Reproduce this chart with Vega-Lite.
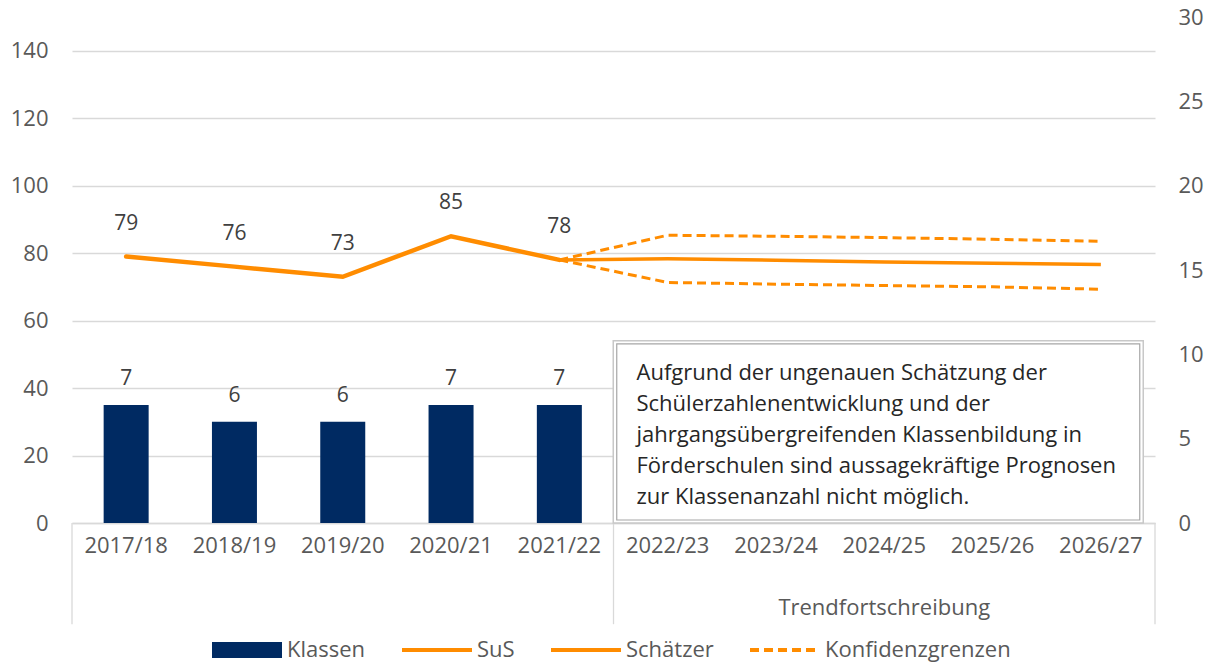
{
  "$schema": "https://vega.github.io/schema/vega-lite/v6.json",
  "width": 1083,
  "height": 506,
  "autosize": {"type": "none"},
  "padding": {"left": 72, "top": 17, "right": 57, "bottom": 141},
  "background": "white",
  "config": {
    "font": "Open Sans",
    "view": {"stroke": null},
    "axis": {"labelFont": "Open Sans", "labelFontSize": 22, "labelColor": "#595959", "ticks": false},
    "legend": {"labelFont": "Open Sans", "labelFontSize": 22, "labelColor": "#595959"}
  },
  "datasets": {
    "klassen": [
      {"year": "2017/18", "klassen": 7, "series": "Klassen"},
      {"year": "2018/19", "klassen": 6, "series": "Klassen"},
      {"year": "2019/20", "klassen": 6, "series": "Klassen"},
      {"year": "2020/21", "klassen": 7, "series": "Klassen"},
      {"year": "2021/22", "klassen": 7, "series": "Klassen"}
    ],
    "sus": [
      {"year": "2017/18", "value": 79, "series": "SuS"},
      {"year": "2018/19", "value": 76, "series": "SuS"},
      {"year": "2019/20", "value": 73, "series": "SuS"},
      {"year": "2020/21", "value": 85, "series": "SuS"},
      {"year": "2021/22", "value": 78, "series": "SuS"}
    ],
    "schaetzer": [
      {"year": "2021/22", "value": 78, "series": "Schätzer"},
      {"year": "2022/23", "value": 78.3, "series": "Schätzer"},
      {"year": "2023/24", "value": 77.9, "series": "Schätzer"},
      {"year": "2024/25", "value": 77.4, "series": "Schätzer"},
      {"year": "2025/26", "value": 77.0, "series": "Schätzer"},
      {"year": "2026/27", "value": 76.6, "series": "Schätzer"}
    ],
    "konf": [
      {"year": "2021/22", "value": 78, "bound": "oben", "series": "Konfidenzgrenzen"},
      {"year": "2022/23", "value": 85.3, "bound": "oben", "series": "Konfidenzgrenzen"},
      {"year": "2023/24", "value": 85.0, "bound": "oben", "series": "Konfidenzgrenzen"},
      {"year": "2024/25", "value": 84.6, "bound": "oben", "series": "Konfidenzgrenzen"},
      {"year": "2025/26", "value": 84.1, "bound": "oben", "series": "Konfidenzgrenzen"},
      {"year": "2026/27", "value": 83.5, "bound": "oben", "series": "Konfidenzgrenzen"},
      {"year": "2021/22", "value": 78, "bound": "unten", "series": "Konfidenzgrenzen"},
      {"year": "2022/23", "value": 71.3, "bound": "unten", "series": "Konfidenzgrenzen"},
      {"year": "2023/24", "value": 70.8, "bound": "unten", "series": "Konfidenzgrenzen"},
      {"year": "2024/25", "value": 70.4, "bound": "unten", "series": "Konfidenzgrenzen"},
      {"year": "2025/26", "value": 70.0, "bound": "unten", "series": "Konfidenzgrenzen"},
      {"year": "2026/27", "value": 69.3, "bound": "unten", "series": "Konfidenzgrenzen"}
    ],
    "sepStart": [{"year": "2017/18"}, {"year": "2022/23"}],
    "sepEnd": [{"year": "2026/27"}],
    "group": [{"label": "Trendfortschreibung"}],
    "note": [{"text": "Aufgrund der ungenauen Schätzung der\nSchülerzahlenentwicklung und der\njahrgangsübergreifenden Klassenbildung in\nFörderschulen sind aussagekräftige Prognosen\nzur Klassenanzahl nicht möglich."}]
  },
  "layer": [
    {
      "data": {"name": "klassen"},
      "encoding": {
        "x": {
          "field": "year",
          "type": "nominal",
          "title": null,
          "scale": {"domain": ["2017/18", "2018/19", "2019/20", "2020/21", "2021/22", "2022/23", "2023/24", "2024/25", "2025/26", "2026/27"], "paddingInner": 0, "paddingOuter": 0},
          "axis": {"title": null, "labelAngle": 0, "domain": true, "domainColor": "#d9d9d9", "domainWidth": 1.3, "ticks": false, "labelPadding": 12, "labelFontSize": 22, "labelColor": "#595959"}
        },
        "y": {
          "field": "klassen",
          "type": "quantitative",
          "title": null,
          "scale": {"domain": [0, 30], "nice": false, "zero": true},
          "axis": {"orient": "right", "title": null, "values": [0, 5, 10, 15, 20, 25, 30], "grid": false, "domain": false, "ticks": false, "labelPadding": 23, "labelFontSize": 22, "labelColor": "#595959"}
        }
      },
      "layer": [
        {
          "mark": {"type": "bar", "width": 45},
          "encoding": {
            "color": {
              "field": "series",
              "type": "nominal",
              "scale": {"domain": ["Klassen", "SuS", "Schätzer", "Konfidenzgrenzen"], "range": ["#002a62", "#ff8c00", "#ff8c00", "#ff8c00"]},
              "legend": {
                "title": null,
                "orient": "none",
                "legendX": 164,
                "legendY": 622,
                "direction": "horizontal",
                "symbolSize": 4900,
                "symbolType": "stroke",
                "labelOffset": 29,
                "columnPadding": 28,
                "labelLimit": 400,
                "labelFontSize": 22,
                "labelColor": "#595959",
                "encode": {
                  "symbols": {
                    "update": {
                      "shape": {"signal": "datum.value === 'Klassen' ? 'M-1,-0.23H1V0.23H-1Z' : 'stroke'"},
                      "fill": {"signal": "datum.value === 'Klassen' ? '#002a62' : 'transparent'"},
                      "stroke": {"signal": "datum.value === 'Klassen' ? 'transparent' : '#ff8c00'"},
                      "strokeWidth": {"signal": "datum.value === 'Klassen' ? 0 : 4"},
                      "strokeDash": {"signal": "datum.value === 'Konfidenzgrenzen' ? [9, 5] : [1, 0]"},
                      "opacity": {"value": 1}
                    }
                  }
                }
              }
            }
          }
        },
        {
          "mark": {"type": "text", "dy": -26, "baseline": "middle", "fontSize": 21, "color": "#404040"},
          "encoding": {"text": {"field": "klassen", "type": "quantitative"}}
        }
      ]
    },
    {
      "layer": [
        {
          "data": {"name": "sepStart"},
          "mark": {"type": "rule", "color": "#d9d9d9", "strokeWidth": 1.3},
          "encoding": {
            "x": {"field": "year", "type": "nominal", "title": null, "bandPosition": 0},
            "y": {"datum": 0},
            "y2": {"datum": -30}
          }
        },
        {
          "data": {"name": "sepEnd"},
          "mark": {"type": "rule", "color": "#d9d9d9", "strokeWidth": 1.3},
          "encoding": {
            "x": {"field": "year", "type": "nominal", "title": null, "bandPosition": 1},
            "y": {"datum": 0},
            "y2": {"datum": -30}
          }
        },
        {
          "data": {"name": "group"},
          "mark": {"type": "text", "fontSize": 22, "color": "#595959", "baseline": "middle"},
          "encoding": {
            "x": {"datum": "2024/25"},
            "y": {"datum": -25.3},
            "text": {"field": "label"}
          }
        },
        {
          "data": {"name": "konf"},
          "mark": {"type": "line", "strokeWidth": 3, "strokeDash": [9, 5]},
          "encoding": {
            "x": {"field": "year", "type": "nominal", "title": null},
            "y": {"field": "value", "type": "quantitative", "title": null},
            "color": {"field": "series", "type": "nominal"},
            "detail": {"field": "bound"}
          }
        },
        {
          "data": {"name": "schaetzer"},
          "mark": {"type": "line", "strokeWidth": 3.5},
          "encoding": {
            "x": {"field": "year", "type": "nominal", "title": null},
            "y": {"field": "value", "type": "quantitative", "title": null},
            "color": {"field": "series", "type": "nominal"}
          }
        },
        {
          "data": {"name": "sus"},
          "mark": {"type": "line", "strokeWidth": 4.5, "strokeCap": "round"},
          "encoding": {
            "x": {"field": "year", "type": "nominal", "title": null},
            "y": {
              "field": "value",
              "type": "quantitative",
              "title": null,
              "scale": {"domain": [0, 150], "nice": false, "zero": true},
              "axis": {"orient": "left", "title": null, "values": [0, 20, 40, 60, 80, 100, 120, 140], "grid": true, "gridColor": "#d9d9d9", "gridWidth": 1.3, "domain": false, "ticks": false, "labelPadding": 24, "labelFontSize": 22, "labelColor": "#595959"}
            },
            "color": {"field": "series", "type": "nominal"}
          }
        },
        {
          "data": {"name": "sus"},
          "mark": {"type": "text", "dy": -33, "baseline": "middle", "fontSize": 21, "color": "#404040"},
          "encoding": {
            "x": {"field": "year", "type": "nominal", "title": null},
            "y": {"field": "value", "type": "quantitative", "title": null},
            "text": {"field": "value", "type": "quantitative"}
          }
        },
        {
          "data": {"name": "note"},
          "mark": {"type": "rect", "width": 530, "xOffset": -6, "fill": "white", "stroke": "#c8c8c8", "strokeWidth": 1.5},
          "encoding": {
            "x": {"datum": "2024/25"},
            "y": {"datum": 0},
            "y2": {"datum": 54}
          }
        },
        {
          "data": {"name": "note"},
          "mark": {"type": "rect", "width": 523, "xOffset": -6, "yOffset": -3, "y2Offset": 3, "fill": "white", "stroke": "#a6a6a6", "strokeWidth": 1.2},
          "encoding": {
            "x": {"datum": "2024/25"},
            "y": {"datum": 0},
            "y2": {"datum": 54}
          }
        },
        {
          "data": {"name": "note"},
          "mark": {"type": "text", "align": "left", "baseline": "middle", "dx": 23, "fontSize": 22, "lineHeight": 31, "lineBreak": "\n", "color": "#262626"},
          "encoding": {
            "x": {"datum": "2022/23", "bandPosition": 0},
            "y": {"datum": 44.5},
            "text": {"field": "text"}
          }
        }
      ]
    }
  ],
  "resolve": {"scale": {"y": "independent"}}
}
